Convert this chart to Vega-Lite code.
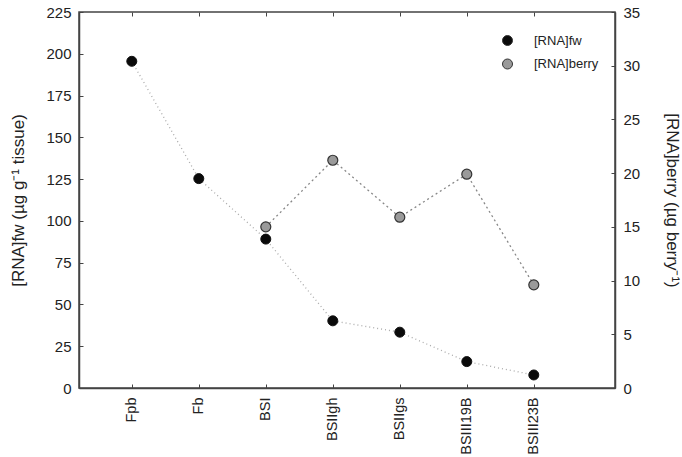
{
  "$schema": "https://vega.github.io/schema/vega-lite/v6.json",
  "autosize": {"type": "none"},
  "width": 536,
  "height": 376,
  "padding": {"left": 79, "top": 12, "right": 67, "bottom": 69},
  "config": {
    "font": "Liberation Sans",
    "view": {"stroke": "#444", "strokeWidth": 1.5},
    "axis": {
      "grid": false,
      "domainColor": "#444",
      "domainWidth": 1.5,
      "tickColor": "#444",
      "tickSize": -4,
      "labelColor": "#222",
      "titleColor": "#222",
      "labelFontSize": 15,
      "titleFontSize": 17,
      "titleFontWeight": "normal"
    }
  },
  "data": {
    "values": [
      {"stage": "Fpb", "fw": 195.5, "berry": null},
      {"stage": "Fb", "fw": 125.3, "berry": null},
      {"stage": "BSI", "fw": 89.1, "berry": 15.0},
      {"stage": "BSIIgh", "fw": 40.2, "berry": 21.2},
      {"stage": "BSIIgs", "fw": 33.4, "berry": 15.9},
      {"stage": "BSIII19B", "fw": 15.8, "berry": 19.9},
      {"stage": "BSIII23B", "fw": 7.8, "berry": 9.6}
    ]
  },
  "layer": [
    {
      "encoding": {
        "x": {
          "field": "stage",
          "type": "ordinal",
          "sort": null,
          "scale": {"type": "point", "padding": 1.278, "align": 0.394},
          "axis": {"title": null, "labelAngle": -90, "labelPadding": 13, "labelFontSize": 14.5}
        }
      },
      "layer": [
        {
          "mark": {"type": "line", "strokeDash": [1, 3], "color": "#aaaaaa", "strokeWidth": 1.3},
          "encoding": {
            "y": {
              "field": "fw",
              "type": "quantitative",
              "scale": {"domain": [0, 225], "nice": false},
              "axis": {
                "title": "[RNA]fw (µg g⁻¹ tissue)",
                "values": [0, 25, 50, 75, 100, 125, 150, 175, 200, 225],
                "labelPadding": 12,
                "titleX": -61,
                "titleBaseline": "middle"
              }
            }
          }
        },
        {
          "mark": {"type": "point", "filled": true, "size": 100, "opacity": 1, "stroke": "#111", "strokeWidth": 1},
          "encoding": {
            "y": {"field": "fw", "type": "quantitative"},
            "color": {
              "datum": "[RNA]fw",
              "type": "nominal",
              "scale": {"domain": ["[RNA]fw", "[RNA]berry"], "range": ["#0a0a0a", "#9a9a9a"]},
              "legend": {
                "title": null,
                "orient": "none",
                "legendX": 422,
                "legendY": 22,
                "labelFontSize": 13,
                "labelColor": "#222",
                "labelOffset": 20,
                "symbolSize": 100,
                "symbolStrokeColor": "#333",
                "symbolStrokeWidth": 1,
                "rowPadding": 8.5
              }
            }
          }
        }
      ]
    },
    {
      "encoding": {
        "x": {
          "field": "stage",
          "type": "ordinal",
          "sort": null,
          "axis": {"orient": "top", "title": null, "labels": false, "domain": false}
        }
      },
      "layer": [
        {
          "mark": {"type": "line", "strokeDash": [2, 3], "color": "#888888", "strokeWidth": 1.3},
          "encoding": {
            "y": {
              "field": "berry",
              "type": "quantitative",
              "scale": {"domain": [0, 35], "nice": false},
              "axis": {
                "orient": "right",
                "title": "[RNA]berry (µg berry⁻¹)",
                "values": [0, 5, 10, 15, 20, 25, 30, 35],
                "labelPadding": 12,
                "titleX": 56,
                "titleBaseline": "middle"
              }
            }
          }
        },
        {
          "mark": {"type": "point", "filled": true, "size": 100, "opacity": 1, "stroke": "#333", "strokeWidth": 1.2},
          "encoding": {
            "y": {"field": "berry", "type": "quantitative"},
            "color": {"datum": "[RNA]berry", "type": "nominal"}
          }
        }
      ]
    }
  ],
  "resolve": {"scale": {"y": "independent"}, "axis": {"x": "independent"}}
}
